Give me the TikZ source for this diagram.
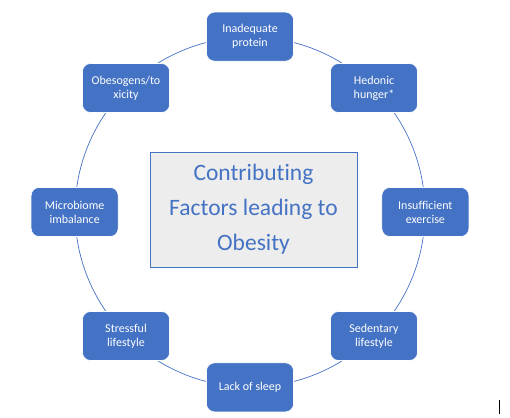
\documentclass[tikz,border=0pt]{standalone}
\usepackage{fontspec}
\setmainfont{Carlito}[Ligatures=NoCommon]
\usepackage{xcolor}
\definecolor{factorblue}{HTML}{4472C4}
\definecolor{panelgray}{HTML}{EDEDED}
\tikzset{factor/.style={draw=white,line width=0.6pt,fill=factorblue,rounded corners=8pt,minimum width=87pt,minimum height=49pt,inner sep=2pt,text=white,align=center,font={\fontsize{12}{14}\selectfont}}}
\tikzset{panel/.style={draw=factorblue,line width=0.8pt,fill=panelgray,minimum width=207pt,minimum height=115pt,text=factorblue,align=center,font={\fontsize{23.5}{35}\selectfont}}}

\begin{document}
\begin{tikzpicture}[x=1pt,y=-1pt]
        \useasboundingbox (0,0) rectangle (510,417);
        \node[circle,draw=factorblue,line width=0.7pt,minimum size=350pt,inner sep=0pt] (ring) at (250,212) {};
        \foreach \a/\n/\t in {north/protein/{Inadequate\\protein}, north east/hedonic/{Hedonic\\hunger*}, east/exercise/{Insufficient\\exercise}, south east/sedentary/{Sedentary\\lifestyle}, south/sleep/{Lack of sleep}, south west/stress/{Stressful\\lifestyle}, west/microbiome/{Microbiome\\imbalance}, north west/toxicity/{Obesogens/to\\xicity}}{
            \node[factor] (\n) at (ring.\a) {\t};
        }
        \node[panel] (title) at (253.5,209.5) {Contributing\\Factors leading to\\Obesity};
        % cursor mark
        \coordinate (cur) at (499,400);
        \draw[black,line width=0.8pt] (cur) -- ++(0,14);
    \end{tikzpicture}
\end{document}
